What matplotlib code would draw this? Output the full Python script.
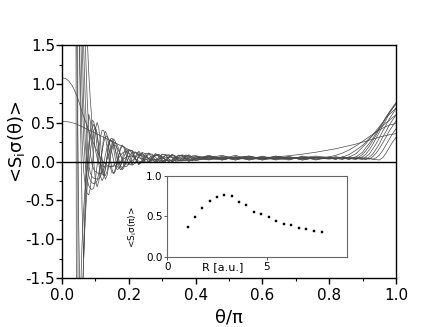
import matplotlib
matplotlib.use("Agg")
import matplotlib.pyplot as plt

# ---------------- main panel data ----------------
theta = [
    0.000, 0.010, 0.020, 0.030, 0.035, 0.040, 0.045,
    0.050, 0.055, 0.060, 0.065, 0.070, 0.075, 0.080, 0.085, 0.090, 0.095,
    0.100, 0.105, 0.110, 0.115, 0.120, 0.125, 0.130, 0.135, 0.140, 0.145,
    0.150, 0.155, 0.160, 0.165, 0.170, 0.175, 0.180, 0.185, 0.190, 0.195,
    0.20, 0.21, 0.22, 0.23, 0.24, 0.25, 0.26, 0.27, 0.28, 0.29,
    0.30, 0.31, 0.32, 0.33, 0.34, 0.35, 0.36, 0.37, 0.38, 0.39,
    0.40, 0.44, 0.48, 0.52, 0.56, 0.60, 0.64, 0.68, 0.72, 0.76,
    0.80, 0.82, 0.84, 0.86, 0.88, 0.90, 0.91, 0.92, 0.93, 0.94,
    0.95, 0.96, 0.97, 0.98, 0.99, 1.00,
]

curve_a = [
    0.52, 0.515, 0.51, 0.50, 0.495, 0.49, 0.48,
    0.47, 0.46, 0.45, 0.438, 0.428, 0.417, 0.407, 0.396, 0.386, 0.375,
    0.365, 0.354, 0.344, 0.333, 0.323, 0.312, 0.302, 0.291, 0.281, 0.27,
    0.26, 0.249, 0.239, 0.228, 0.218, 0.207, 0.197, 0.186, 0.176, 0.165,
    0.155, 0.134, 0.113, 0.092, 0.072, 0.055, 0.042, 0.032, 0.025, 0.02,
    0.016, 0.013, 0.011, 0.01, 0.01, 0.011, 0.013, 0.015, 0.018, 0.021,
    0.024, 0.03, 0.035, 0.04, 0.045, 0.05, 0.06, 0.075, 0.095, 0.12,
    0.15, 0.165, 0.185, 0.205, 0.225, 0.25, 0.26, 0.275, 0.29, 0.30,
    0.315, 0.325, 0.335, 0.345, 0.352, 0.36,
]
curve_b = [
    1.08, 1.07, 1.04, 0.98, 0.94, 0.89, 0.84,
    0.78, 0.71, 0.64, 0.58, 0.52, 0.46, 0.40, 0.34, 0.28, 0.23,
    0.18, 0.13, 0.09, 0.05, 0.02, -0.01, -0.03, -0.05, -0.06, -0.065,
    -0.065, -0.06, -0.05, -0.035, -0.02, 0.0, 0.02, 0.035, 0.05, 0.06,
    0.065, 0.07, 0.065, 0.05, 0.035, 0.025, 0.02, 0.02, 0.025, 0.035,
    0.045, 0.05, 0.055, 0.055, 0.05, 0.045, 0.04, 0.035, 0.035, 0.035,
    0.04, 0.05, 0.04, 0.035, 0.04, 0.045, 0.04, 0.035, 0.04, 0.05,
    0.06, 0.08, 0.11, 0.15, 0.2, 0.26, 0.29, 0.32, 0.35, 0.38,
    0.405, 0.43, 0.45, 0.47, 0.48, 0.49,
]
curve_c = [
    9, 9, 9, 6, 4.5, 3.0, 1.2,
    -0.8, -2.2, -1.93, -1.23, -0.36, 0.34, 0.61, 0.52, 0.29, 0.0,
    -0.24, -0.325, -0.257, -0.078, 0.143, 0.322, 0.39, 0.338, 0.201, 0.031,
    -0.106, -0.158, -0.123, -0.03, 0.085, 0.178, 0.213, 0.187, 0.118, 0.032,
    -0.037, -0.044, 0.066, 0.134, 0.078, -0.012, -0.014, 0.059, 0.105, 0.066,
    0.003, 0.002, 0.059, 0.095, 0.062, 0.009, 0.008, 0.057, 0.087, 0.06,
    0.04, 0.07, 0.02, 0.06, 0.03, 0.07, 0.02, 0.05, 0.04, 0.06,
    0.04, 0.03, 0.057, 0.09, 0.146, 0.21, 0.25, 0.30, 0.34, 0.38,
    0.42, 0.46, 0.50, 0.53, 0.57, 0.60,
]
curve_d = [
    9, 9, 9, 8, 6.5, 5, 3.4,
    2.0, 1.0, 0.3, -0.12, -0.33, -0.41, -0.43, -0.341, -0.107, 0.182,
    0.416, 0.505, 0.435, 0.252, 0.026, -0.157, -0.227, -0.178, -0.048, 0.113,
    0.243, 0.292, 0.254, 0.154, 0.031, -0.069, -0.107, -0.081, -0.014, 0.07,
    0.137, 0.144, 0.03, -0.04, 0.014, 0.102, 0.104, 0.031, -0.015, 0.025,
    0.089, 0.09, 0.031, -0.005, 0.028, 0.081, 0.081, 0.031, 0.0, 0.029,
    0.07, 0.03, 0.06, 0.02, 0.07, 0.04, 0.03, 0.06, 0.02, 0.05,
    0.045, 0.04, 0.035, 0.058, 0.1, 0.186, 0.23, 0.284, 0.336, 0.395,
    0.448, 0.50, 0.559, 0.605, 0.645, 0.69,
]
curve_e = [
    9, 9, 9, 8, 7, 5.5, 3.8,
    2.1, 0.6, -0.6, -1.25, -0.6, -0.1, 0.22, 0.42, 0.53, 0.518,
    0.39, 0.19, -0.019, -0.184, -0.247, -0.205, -0.087, 0.06, 0.2, 0.29,
    0.30, 0.245, 0.145, 0.032, -0.06, -0.104, -0.092, -0.044, 0.027, 0.098,
    0.146, 0.138, 0.041, -0.033, -0.007, 0.069, 0.112, 0.077, 0.013, -0.009,
    0.031, 0.083, 0.09, 0.048, 0.005, 0.009, 0.053, 0.085, 0.072, 0.032,
    0.01, 0.05, 0.08, 0.03, 0.05, 0.02, 0.07, 0.04, 0.06, 0.03,
    0.05, 0.06, 0.05, 0.03, 0.058, 0.12, 0.18, 0.232, 0.293, 0.364,
    0.435, 0.50, 0.57, 0.634, 0.685, 0.74,
]
curve_f = [
    9, 9, 9, 9, 8, 7, -7,
    -3.2, -1.8, -1.05, -0.6, -0.28, -0.05, 0.15, 0.31, 0.42, 0.481,
    0.441, 0.333, 0.179, 0.018, -0.116, -0.183, -0.18, -0.126, -0.037, 0.072,
    0.163, 0.229, 0.245, 0.22, 0.162, 0.09, 0.018, -0.038, -0.065, -0.059,
    -0.031, 0.057, 0.122, 0.11, 0.048, -0.006, -0.009, 0.034, 0.082, 0.092,
    0.061, 0.019, 0.001, 0.023, 0.061, 0.083, 0.07, 0.036, 0.011, 0.017,
    0.04, 0.08, 0.03, 0.05, 0.07, 0.02, 0.05, 0.06, 0.03, 0.05,
    0.04, 0.035, 0.05, 0.04, 0.03, 0.092, 0.14, 0.198, 0.264, 0.337,
    0.417, 0.49, 0.57, 0.636, 0.70, 0.76,
]
curve_g = [
    9, 9, 9, 9, 9, 8.5, 8,
    -8, -3.6, -2.0, -1.2, -0.7, -0.35, -0.08, 0.13, 0.29, 0.40,
    0.442, 0.373, 0.19, -0.017, -0.162, -0.179, -0.09, 0.059, 0.203, 0.275,
    0.251, 0.157, 0.032, -0.062, -0.087, -0.048, 0.029, 0.108, 0.155, 0.152,
    0.108, -0.01, -0.015, 0.073, 0.109, 0.046, -0.01, 0.023, 0.085, 0.078,
    0.021, 0.005, 0.051, 0.084, 0.054, 0.012, 0.024, 0.068, 0.074, 0.035,
    0.015, 0.06, 0.04, 0.08, 0.02, 0.06, 0.04, 0.02, 0.07, 0.04,
    0.05, 0.03, 0.06, 0.04, 0.03, 0.062, 0.095, 0.152, 0.217, 0.296,
    0.376, 0.462, 0.534, 0.62, 0.685, 0.75,
]
curve_h = [
    9, 9, 9, 9, 8, 6.5, 4.8,
    3.2, 1.9, 0.9, 0.3, -0.05, -0.22, -0.31, -0.35, -0.36, -0.339,
    -0.23, -0.05, 0.147, 0.312, 0.404, 0.398, 0.319, 0.186, 0.042, -0.08,
    -0.147, -0.145, -0.095, -0.011, 0.079, 0.155, 0.197, 0.195, 0.16, 0.101,
    0.038, -0.045, -0.02, 0.063, 0.119, 0.098, 0.031, -0.015, 0.003, 0.058,
    0.096, 0.081, 0.033, 0.001, 0.015, 0.058, 0.087, 0.074, 0.034, 0.007,
    0.05, 0.02, 0.07, 0.04, 0.03, 0.06, 0.05, 0.03, 0.06, 0.02,
    0.06, 0.04, 0.03, 0.05, 0.04, 0.03, 0.063, 0.095, 0.16, 0.225,
    0.303, 0.388, 0.466, 0.55, 0.615, 0.68,
]
curve_i = [
    9, 9, 9, 9, 9, 7.5, 5.8,
    4.2, 2.8, 1.6, 0.75, 0.22, -0.05, -0.18, -0.245, -0.275, -0.284,
    -0.28, -0.251, -0.157, -0.019, 0.123, 0.247, 0.32, 0.329, 0.287, 0.198,
    0.106, 0.006, -0.068, -0.102, -0.094, -0.059, -0.005, 0.056, 0.11, 0.144,
    0.152, 0.109, 0.028, -0.024, -0.009, 0.047, 0.096, 0.096, 0.057, 0.012,
    -0.002, 0.024, 0.063, 0.085, 0.072, 0.037, 0.01, 0.012, 0.042, 0.072,
    0.075, 0.04, 0.02, 0.06, 0.05, 0.03, 0.07, 0.04, 0.05, 0.03,
    0.04, 0.06, 0.04, 0.03, 0.05, 0.035, 0.025, 0.057, 0.094, 0.157,
    0.226, 0.313, 0.387, 0.468, 0.537, 0.60,
]
curve_j = [
    9, 9, 9, 9, 9, 8, 6.5,
    5.0, 3.6, 2.4, 1.45, 0.75, 0.27, -0.05, -0.15, -0.195, -0.215,
    -0.222, -0.225, -0.224, -0.199, -0.128, -0.027, 0.085, 0.186, 0.257, 0.282,
    0.264, 0.214, 0.143, 0.064, -0.007, -0.057, -0.075, -0.065, -0.036, 0.005,
    0.049, 0.119, 0.122, 0.073, 0.012, -0.015, 0.005, 0.05, 0.087, 0.088,
    0.057, 0.02, 0.003, 0.018, 0.05, 0.077, 0.078, 0.054, 0.026, 0.012,
    0.03, 0.07, 0.05, 0.02, 0.06, 0.04, 0.06, 0.03, 0.05, 0.07,
    0.05, 0.03, 0.06, 0.05, 0.03, 0.05, 0.04, 0.03, 0.062, 0.104,
    0.165, 0.236, 0.314, 0.393, 0.459, 0.52,
]
curve_k = [
    9, 9, 9, 9, 9, 8.5, 7.2,
    5.9, 4.6, 3.4, 2.35, 1.5, 0.85, 0.4, 0.1, -0.04, -0.1,
    -0.13, -0.145, -0.152, -0.154, -0.14, -0.1, -0.04, 0.03, 0.099, 0.159,
    0.198, 0.213, 0.204, 0.177, 0.136, 0.089, 0.042, 0.001, -0.025, -0.035,
    -0.03, 0.007, 0.059, 0.096, 0.097, 0.071, 0.035, 0.009, 0.008, 0.028,
    0.056, 0.076, 0.077, 0.059, 0.035, 0.018, 0.018, 0.033, 0.054, 0.069,
    0.07, 0.03, 0.05, 0.06, 0.02, 0.05, 0.03, 0.06, 0.04, 0.05,
    0.03, 0.05, 0.05, 0.03, 0.06, 0.04, 0.03, 0.04, 0.03, 0.046,
    0.081, 0.141, 0.213, 0.287, 0.362, 0.42,
]
curve_l = [
    9, 9, 9, 9, 9, 9, 8,
    6.6, 5.3, 4.1, 3.1, 2.3, 1.65, 1.15, 0.78, 0.5, 0.3,
    0.15, 0.05, -0.01, -0.04, -0.055, -0.063, -0.067, -0.069, -0.069, -0.069,
    -0.063, -0.046, -0.02, 0.012, 0.047, 0.079, 0.104, 0.122, 0.128, 0.124,
    0.113, 0.076, 0.032, 0.004, 0.002, 0.02, 0.046, 0.069, 0.078, 0.071,
    0.052, 0.031, 0.018, 0.017, 0.029, 0.047, 0.063, 0.069, 0.066, 0.055,
    0.045, 0.06, 0.03, 0.05, 0.07, 0.03, 0.04, 0.06, 0.02, 0.05,
    0.05, 0.04, 0.03, 0.06, 0.04, 0.03, 0.05, 0.04, 0.03, 0.025,
    0.02, 0.049, 0.107, 0.18, 0.252, 0.31,
]

curves = [curve_a, curve_b, curve_c, curve_d, curve_e, curve_f,
          curve_g, curve_h, curve_i, curve_j, curve_k, curve_l]

# ---------------- inset data ----------------
R_au = [1.02, 1.37, 1.74, 2.12, 2.49, 2.86, 3.23, 3.60, 3.96, 4.35,
        4.72, 5.10, 5.47, 5.85, 6.22, 6.61, 6.97, 7.36, 7.74]
S_pi = [0.364, 0.49, 0.60, 0.69, 0.74, 0.76, 0.75, 0.68, 0.645, 0.56,
        0.525, 0.49, 0.44, 0.41, 0.39, 0.355, 0.34, 0.32, 0.305]

x_major = [0.0, 0.2, 0.4, 0.6, 0.8, 1.0]
x_labels = ["0.0", "0.2", "0.4", "0.6", "0.8", "1.0"]
y_major = [-1.5, -1.0, -0.5, 0.0, 0.5, 1.0, 1.5]
y_labels = ["-1.5", "-1.0", "-0.5", "0.0", "0.5", "1.0", "1.5"]

plt.rcParams["font.family"] = ["DejaVu Sans"]

fig = plt.figure(figsize=(4.36, 3.27), dpi=100)
ax = fig.add_axes([0.1422, 0.150, 0.766, 0.712])

for c in curves:
    ax.plot(theta, c, color="#4a4a4a", lw=0.5, solid_joinstyle="round")
ax.axhline(0.0, color="black", lw=1.0)

ax.set_xlim(0, 1)
ax.set_ylim(-1.5, 1.5)
ax.set_xticks(x_major)
ax.set_xticklabels(x_labels)
ax.set_xticks([0.1, 0.3, 0.5, 0.7, 0.9], minor=True)
ax.set_yticks(y_major)
ax.set_yticklabels(y_labels)
ax.set_yticks([-1.25, -0.75, -0.25, 0.25, 0.75, 1.25], minor=True)
ax.tick_params(which="major", direction="out", length=4, width=1.0,
               labelsize=11, color="black")
ax.tick_params(axis="y", which="major", pad=1)
ax.tick_params(axis="x", which="major", pad=3)
ax.tick_params(which="minor", direction="out", length=2.2, width=0.8)
for s in ax.spines.values():
    s.set_linewidth(1.0)
    s.set_color("black")

fig.text(0.037, 0.566, "<S$_{\\rm i}$σ(θ)>", rotation=90,
         ha="center", va="center", fontsize=13)
fig.text(0.525, 0.028, "θ/π", ha="center", va="center", fontsize=13)

# ---------------- inset ----------------
ins = fig.add_axes([0.3837, 0.2150, 0.4115, 0.2468])
ins.plot(R_au, S_pi, "s", ms=2.0, color="black", mec="black", mew=0.3)
ins.set_xlim(0, 9)
ins.set_ylim(0, 1)
ins.set_xticks([0, 5])
ins.set_xticklabels(["0", "5"])
ins.set_yticks([0.0, 0.5, 1.0])
ins.set_yticklabels(["0.0", "0.5", "1.0"])
ins.tick_params(direction="out", length=2, width=0.7, labelsize=7.5,
                color="#555555", pad=1.5)
for s in ins.spines.values():
    s.set_linewidth(0.8)
    s.set_color("#666666")

fig.text(0.3044, 0.3067, "<S$_{\\rm i}$σ(π)>", rotation=90,
         ha="center", va="center", fontsize=6.5)
fig.text(0.5108, 0.1826, "R [a.u.]", ha="center", va="center", fontsize=8)

fig.savefig("out.png", dpi=100)
